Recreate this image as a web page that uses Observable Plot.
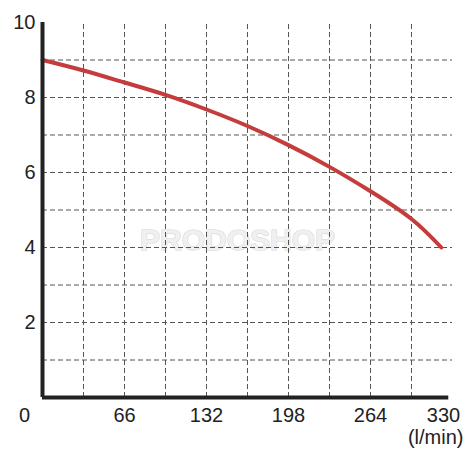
<!DOCTYPE html>
<html>
<head>
<meta charset="utf-8">
<script src="https://cdn.jsdelivr.net/npm/d3@7"></script>
<script src="https://cdn.jsdelivr.net/npm/@observablehq/plot@0.6"></script>
<style>
  html, body { margin: 0; padding: 0; background: #fff; }
  #chart svg { display: block; }
</style>
</head>
<body>
<div id="chart"></div>
<script>
// Flow (l/min) vs head (m)
const flow = [0, 33, 66, 99, 132, 165, 198, 231, 264, 297, 321];
const head = [9.0, 8.72, 8.40, 8.07, 7.68, 7.24, 6.73, 6.15, 5.50, 4.76, 4.0];

const xTicks = [66, 132, 198, 264];
const yTicks = [2, 4, 6, 8, 10];
const xGrid = [33, 66, 99, 132, 165, 198, 231, 264, 297];
const yGrid = [1, 2, 3, 4, 5, 6, 7, 8, 9];
const unitLabel = "(l/min)";
const watermark = "PRODOSHOP";

const curve = flow.map((x, i) => ({x, y: head[i]}));

const font = "'Liberation Sans', Arial, sans-serif";

const chart = Plot.plot({
  width: 475,
  height: 475,
  marginLeft: 42,
  marginRight: 23,
  marginTop: 22,
  marginBottom: 78,
  x: {domain: [0, 330], axis: null},
  y: {domain: [0, 10], axis: null},
  style: {fontFamily: font, background: "#fff"},
  marks: [
    Plot.text([watermark], {frameAnchor: "middle", dx: -10, dy: 30, text: d => d,
      fontSize: 30, fontWeight: "bold", fill: "#f0f0f0", stroke: "#d8d8d8", strokeWidth: 1.2}),
    Plot.ruleX(xGrid, {y1: 0, y2: 10, stroke: "#555", strokeWidth: 1, strokeDasharray: "5,3"}),
    Plot.ruleY(yGrid, {x1: 0, x2: 330, stroke: "#555", strokeWidth: 1, strokeDasharray: "5,3"}),
    Plot.line(curve, {x: "x", y: "y", stroke: "#c43c3c", strokeWidth: 4, curve: "natural"}),
    Plot.ruleX([0], {y1: 0, y2: 10, stroke: "#222", strokeWidth: 4}),
    Plot.ruleY([0], {x1: 0, x2: 327, stroke: "#222", strokeWidth: 4}),
    Plot.text(yTicks, {x: 0, y: d => d, text: d => String(d), textAnchor: "end", dx: -7,
      fontSize: 20, fill: "#222"}),
    Plot.text(xTicks, {x: d => d, y: 0, text: d => String(d), dy: 18, fontSize: 20, fill: "#222"}),
    Plot.text([0], {x: d => d, y: 0, text: d => String(d), dy: 18, dx: -18, fontSize: 20, fill: "#222"}),
    Plot.text([330], {x: d => d, y: 0, text: d => String(d), dy: 18, dx: -9, fontSize: 20, fill: "#222"}),
    Plot.text([unitLabel], {frameAnchor: "bottom-right", text: d => d, textAnchor: "end",
      dx: 11, dy: 46, fontSize: 20, fill: "#222"})
  ]
});
document.getElementById("chart").appendChild(chart);
</script>
</body>
</html>
